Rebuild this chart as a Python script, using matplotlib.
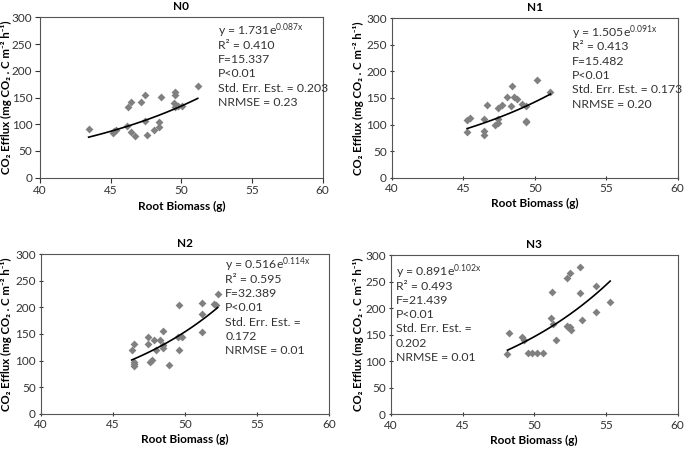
import numpy as np
import matplotlib
matplotlib.use("Agg")
import matplotlib.pyplot as plt

plt.rcParams['font.family'] = ['Lato', 'DejaVu Sans']
plt.rcParams['mathtext.default'] = 'regular'

# ---- data ----
n0_x = [43.44, 45.14, 45.26, 45.40, 46.13, 46.25, 46.44, 46.44, 46.75, 47.15, 47.45, 47.45,
        47.55, 48.07, 48.42, 48.44, 48.56, 49.46, 49.55, 49.55, 49.58, 49.79, 50.07, 51.16]
n0_y = [91, 84, 87.5, 89, 97.5, 132, 142, 86, 78, 141, 154, 106,
        79, 90, 95, 104, 151, 139, 160, 154, 133, 135, 135, 171]

n1_x = [45.26, 45.26, 45.45, 46.41, 46.41, 46.41, 46.69, 47.20, 47.40, 47.40, 47.43, 47.72,
        48.09, 48.32, 48.41, 48.57, 48.78, 49.13, 49.40, 49.40, 49.40, 50.14, 51.10]
n1_y = [86, 109, 112.5, 111, 88, 81, 137.5, 99, 131, 111, 102.5, 137.5,
        151, 135, 172.5, 152, 149, 139, 135, 107, 104, 184, 161]

n2_x = [46.30, 46.48, 46.48, 46.48, 46.48, 47.45, 47.45, 47.55, 47.73, 47.87, 47.99, 48.29,
        48.50, 48.50, 48.50, 48.87, 49.51, 49.58, 49.58, 49.79, 51.16, 51.16, 51.16, 52.04,
        52.13, 52.27]
n2_y = [119, 130.6, 98, 94, 90, 143.8, 131, 97, 101, 139, 119, 138,
        155.7, 129, 123, 91.6, 143.8, 119, 205, 145, 207.8, 187.7, 154.4, 206.5,
        205, 225]

n3_x = [48.13, 48.23, 49.17, 49.29, 49.54, 49.86, 50.16, 50.60, 51.18, 51.27, 51.31, 51.50,
        52.26, 52.28, 52.33, 52.47, 52.47, 52.60, 53.16, 53.16, 53.36, 54.29, 54.29, 55.30]
n3_y = [113, 152.5, 145, 140.6, 116, 116, 116, 116, 180.8, 229.7, 170, 139,
        257, 166, 163.8, 267, 163.8, 159, 276.8, 229, 177.6, 241.7, 192, 212]

titles = ['N0', 'N1', 'N2', 'N3']
coef_a = [1.731, 1.505, 0.516, 0.891]
coef_b = [0.087, 0.091, 0.114, 0.102]
stats = [
    ['y = 1.731e$^{0.087x}$', 'R² = 0.410', 'F=15.337', 'P<0.01', 'Std. Err. Est. = 0.203', 'NRMSE = 0.23'],
    ['y = 1.505e$^{0.091x}$', 'R² = 0.413', 'F=15.482', 'P<0.01', 'Std. Err. Est. = 0.173', 'NRMSE = 0.20'],
    ['y = 0.516e$^{0.114x}$', 'R² = 0.595', 'F=32.389', 'P<0.01', 'Std. Err. Est. =', '0.172', 'NRMSE = 0.01'],
    ['y = 0.891e$^{0.102x}$', 'R² = 0.493', 'F=21.439', 'P<0.01', 'Std. Err. Est. =', '0.202', 'NRMSE = 0.01'],
]
xticks = [40, 45, 50, 55, 60]
yticks = [0, 50, 100, 150, 200, 250, 300]

W, H = 685, 453
fig = plt.figure(figsize=(W / 100, H / 100), dpi=100)

# axes boxes in pixels: left, top, right, bottom
boxes = [(40, 17.3, 322.7, 177.7), (392, 18.3, 677.5, 177.7),
         (41, 254.3, 329, 413.7), (391, 255, 677.5, 414.3)]
ylabel_px = [12.5, 364.5, 12.5, 363.5]
text_pos = [(0.628, 0.915), (0.63, 0.91), (0.64, 0.933), (0.017, 0.895)]
tick_dirs = ['out', 'inout', 'inout', 'inout']

xs = [n0_x, n1_x, n2_x, n3_x]
ys = [n0_y, n1_y, n2_y, n3_y]

for i in range(4):
    l, t, r, b = boxes[i]
    ax = fig.add_axes([l / W, 1 - b / H, (r - l) / W, (b - t) / H])
    x = np.array(xs[i]); y = np.array(ys[i])
    ax.scatter(x, y, marker='D', s=16, color='#808080', zorder=3, linewidths=0)
    xf = np.linspace(x.min(), x.max(), 100)
    ax.plot(xf, coef_a[i] * np.exp(coef_b[i] * xf), color='black', lw=1.2, zorder=4)
    ax.set_xlim(40, 60)
    ax.set_ylim(0, 300)
    ax.set_xticks(xticks)
    ax.set_yticks(yticks)
    ax.tick_params(direction=tick_dirs[i], length=3.5, width=0.8, labelsize=8.5, pad=2,
                   colors='#333333')
    for sp in ax.spines.values():
        sp.set_color('#555555')
        sp.set_linewidth(0.8)
    ax.set_title(titles[i], fontsize=8.5, fontweight='bold', pad=5)
    ax.set_xlabel('Root Biomass (g)', fontsize=8.5, fontweight='bold', labelpad=3)
    ax.set_ylabel('CO₂ Efflux (mg CO₂ . C m⁻² h⁻¹)', fontsize=8.2, fontweight='bold')
    ax.yaxis.set_label_coords((ylabel_px[i] - l) / (r - l), 0.5)
    tx, ty = text_pos[i]
    lh = 14.3 / (b - t)
    for k, line in enumerate(stats[i]):
        ax.text(tx, ty - k * lh, line, transform=ax.transAxes, fontsize=8.8,
                va='center', ha='left', color='#333333')

fig.savefig('out.png', dpi=100)
